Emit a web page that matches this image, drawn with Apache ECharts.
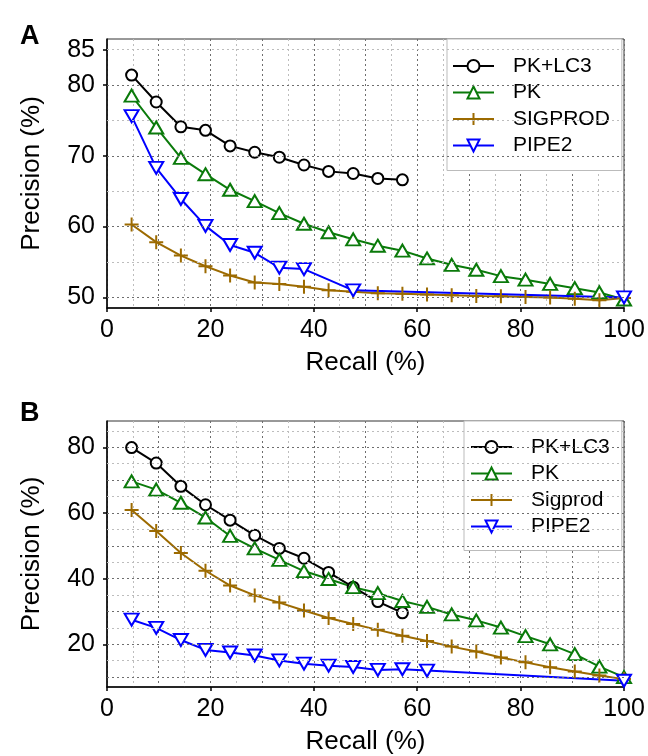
<!DOCTYPE html>
<html>
<head>
<meta charset="utf-8">
<script src="https://cdn.jsdelivr.net/npm/echarts@6/dist/echarts.min.js"></script>
<style>
  html, body { margin: 0; padding: 0; background: #fff; }
  #chart { width: 648px; height: 756px; }
</style>
</head>
<body>
<div id="chart"></div>
<script>
// recall positions (%)
var recall = [4.76, 9.52, 14.29, 19.05, 23.81, 28.57, 33.33, 38.10, 42.86, 47.62, 52.38,
  57.14, 61.90, 66.67, 71.43, 76.19, 80.95, 85.71, 90.48, 95.24, 100];
var recallLc3 = [4.76, 9.52, 14.29, 19.05, 23.81, 28.57, 33.33, 38.10, 42.86, 47.62, 52.38, 57.14];
var recallPipeA = [4.76, 9.52, 14.29, 19.05, 23.81, 28.57, 33.33, 38.10, 47.62, 100];
var recallPipeB = [4.76, 9.52, 14.29, 19.05, 23.81, 28.57, 33.33, 38.10, 42.86, 47.62, 52.38, 57.14, 61.90, 100];

// panel A precision (%)
var pkLc3A = [81.4, 77.6, 74.1, 73.6, 71.4, 70.5, 69.8, 68.7, 67.8, 67.5, 66.8, 66.6];
var pkA = [78.5, 74.0, 69.7, 67.4, 65.2, 63.6, 61.9, 60.4, 59.2, 58.2, 57.3, 56.6, 55.5,
  54.6, 53.9, 53.0, 52.5, 51.9, 51.3, 50.7, 49.7];
var sigprodA = [60.3, 57.8, 55.9, 54.4, 53.1, 52.1, 51.9, 51.5, 51.0, 50.8, 50.6, 50.5, 50.4,
  50.3, 50.2, 50.15, 50.05, 50.0, 49.8, 49.6, 49.9];
var pipe2A = [75.6, 68.3, 63.9, 60.1, 57.4, 56.3, 54.2, 54.0, 51.0, 50.0];

// panel B precision (%)
var pkLc3B = [79.9, 75.2, 68.1, 62.5, 57.8, 53.2, 49.2, 46.2, 41.9, 37.4, 33.0, 29.6];
var pkB = [69.6, 67.1, 63.1, 58.6, 53.0, 49.2, 45.7, 42.3, 39.9, 37.4, 35.6, 33.2, 31.4,
  29.1, 27.3, 25.1, 22.5, 20.0, 17.0, 13.2, 10.0];
var sigprodB = [60.9, 54.5, 47.8, 42.4, 37.9, 34.9, 32.7, 30.3, 28.0, 26.2, 24.4, 22.6, 21.0,
  19.3, 17.8, 16.0, 14.5, 13.0, 11.7, 10.5, 9.4];
var pipe2B = [27.5, 25.0, 21.3, 18.3, 17.5, 16.6, 15.1, 14.1, 13.5, 13.1, 12.2, 12.4, 12.0, 8.9];

// tick labels and grid lines
var xTicks = [0, 20, 40, 60, 80, 100];
var yTicksA = [50, 60, 70, 80, 85];
var yTicksB = [20, 40, 60, 80];
var yGridA = [50, 55, 60, 65, 70, 75, 80, 85];
var yGridB = [10, 15, 20, 25, 30, 35, 40, 45, 50, 55, 60, 65, 70, 75, 80, 85];

var namesA = ["PK+LC3", "PK", "SIGPROD", "PIPE2"];
var namesB = ["PK+LC3", "PK", "Sigprod", "PIPE2"];

var FONT = "Liberation Sans";
var BLACK = "#000000", GREEN = "#0a7a0a", BROWN = "#9c6a00", BLUE = "#0000ff";
var DOT = [2, 3];

function pairs(xs, ys) {
  return xs.map(function (x, i) { return [x, ys[i]]; });
}

// one line series with hollow markers
function line(name, xs, ys, color, symbol, size, rotate, xi, yi) {
  return {
    name: name,
    type: "line",
    xAxisIndex: xi,
    yAxisIndex: yi,
    data: pairs(xs, ys),
    symbol: symbol,
    symbolSize: size,
    symbolRotate: rotate,
    showAllSymbol: true,
    z: 3,
    lineStyle: { color: color, width: 2 },
    itemStyle: { color: "#ffffff", borderColor: color, borderWidth: 2 },
  };
}

// horizontal dotted grid lines drawn through the y scale
function gridLines(values, xi, yi) {
  return {
    type: "line",
    xAxisIndex: xi,
    yAxisIndex: yi,
    data: [],
    silent: true,
    z: 1,
    markLine: {
      silent: true,
      symbol: "none",
      label: { show: false },
      animation: false,
      data: values.map(function (v) {
        return {
          yAxis: v,
          lineStyle: { color: v % 10 === 0 ? "#6e6e6e" : "#bdbdbd", type: DOT, width: 1 },
        };
      }),
    },
  };
}

var CROSS = "path://M6,0L6,12M0,6L12,6";

function xMain(gridIndex) {
  return {
    type: "value",
    gridIndex: gridIndex,
    min: 0,
    max: 100,
    interval: 10,
    name: "Recall (%)",
    nameLocation: "middle",
    nameGap: 42,
    nameTextStyle: { fontSize: 26, color: "#000", fontFamily: FONT },
    axisLine: { onZero: false, lineStyle: { color: "#000", width: 1.5 } },
    axisTick: { show: false },
    axisLabel: { customValues: xTicks, fontSize: 25, color: "#000", fontFamily: FONT, margin: 10 },
    splitLine: { show: true, lineStyle: { color: "#6e6e6e", type: DOT, width: 1 } },
    minorTick: { show: false, splitNumber: 2 },
    minorSplitLine: { show: true, lineStyle: { color: "#bdbdbd", type: DOT, width: 1 } },
  };
}

function xTick(gridIndex) {
  return {
    type: "value",
    gridIndex: gridIndex,
    position: "bottom",
    min: 0,
    max: 100,
    axisLine: { show: false, onZero: false },
    axisLabel: { show: false },
    splitLine: { show: false },
    axisTick: { customValues: xTicks, length: 4, lineStyle: { color: "#000", width: 1.5 } },
  };
}

function yAxis(gridIndex, min, max, ticks) {
  return {
    type: "value",
    gridIndex: gridIndex,
    min: min,
    max: max,
    name: "Precision (%)",
    nameLocation: "middle",
    nameGap: 62,
    nameTextStyle: { fontSize: 26, color: "#000", fontFamily: FONT },
    axisLine: { show: true, onZero: false, lineStyle: { color: "#000", width: 1.5 } },
    axisTick: { customValues: ticks, length: 4, lineStyle: { color: "#000", width: 1.5 } },
    axisLabel: { customValues: ticks, fontSize: 25, color: "#000", fontFamily: FONT, margin: 12 },
    splitLine: { show: false },
  };
}

function legend(names, left, top, padding) {
  return {
    data: names,
    orient: "vertical",
    left: left,
    top: top,
    padding: padding,
    itemGap: 4.5,
    itemWidth: 41,
    itemHeight: 15,
    selectedMode: false,
    backgroundColor: "#ffffff",
    borderColor: "#bbbbbb",
    borderWidth: 1,
    borderRadius: 0,
    textStyle: { fontSize: 21, color: "#000", fontFamily: FONT, lineHeight: 22, padding: [0, 0, 0, 14] },
  };
}

var myChart = echarts.init(document.getElementById("chart"), null, { renderer: "canvas" });
myChart.setOption({
  animation: false,
  backgroundColor: "#ffffff",
  textStyle: { fontFamily: FONT },
  title: [
    { text: "A", left: 15, top: 18, textStyle: { fontSize: 27, fontWeight: "bold", color: "#000", fontFamily: FONT } },
    { text: "B", left: 15, top: 395, textStyle: { fontSize: 27, fontWeight: "bold", color: "#000", fontFamily: FONT } },
  ],
  grid: [
    { left: 107, top: 39, width: 517, height: 269, show: true, borderColor: "#333", borderWidth: 1, backgroundColor: "transparent" },
    { left: 107, top: 421, width: 517, height: 268, show: true, borderColor: "#333", borderWidth: 1, backgroundColor: "transparent" },
  ],
  xAxis: [xMain(0), xTick(0), xMain(1), xTick(1)],
  yAxis: [yAxis(0, 48.5, 86.5, yTicksA), yAxis(1, 7, 88, yTicksB)],
  legend: [
    legend(namesA, 447, 39, [16, 12, 14, 5]),
    legend(namesB, 464, 421, [15, 12, 13, 6]),
  ],
  series: [
    gridLines(yGridA, 0, 0),
    gridLines(yGridB, 2, 1),
    line("PK+LC3", recallLc3, pkLc3A, BLACK, "circle", 11, 0, 0, 0),
    line("PK", recall, pkA, GREEN, "triangle", [14, 12], 0, 0, 0),
    line("SIGPROD", recall, sigprodA, BROWN, CROSS, 14, 0, 0, 0),
    line("PIPE2", recallPipeA, pipe2A, BLUE, "triangle", [14, 12], 180, 0, 0),
    line("PK+LC3", recallLc3, pkLc3B, BLACK, "circle", 11, 0, 2, 1),
    line("PK", recall, pkB, GREEN, "triangle", [14, 12], 0, 2, 1),
    line("Sigprod", recall, sigprodB, BROWN, CROSS, 14, 0, 2, 1),
    line("PIPE2", recallPipeB, pipe2B, BLUE, "triangle", [14, 12], 180, 2, 1),
  ],
});
window.addEventListener("resize", function () {
  myChart.resize();
});
</script>
</body>
</html>
